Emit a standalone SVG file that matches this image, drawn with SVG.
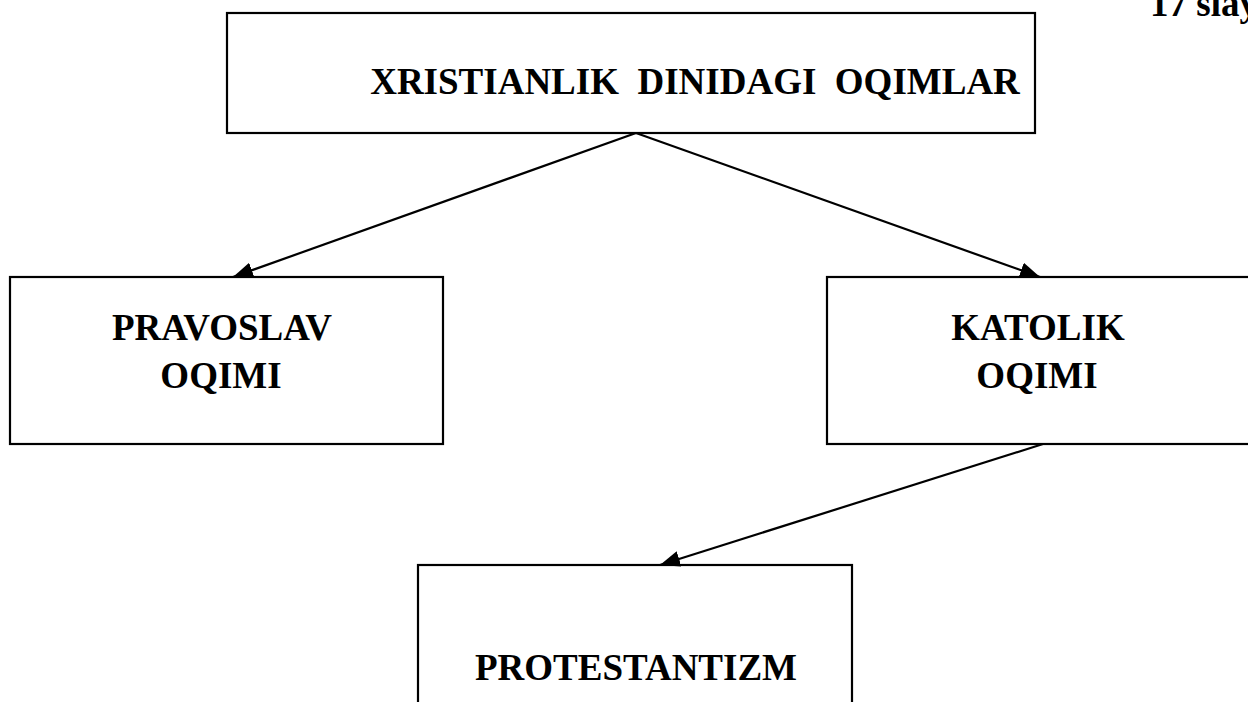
<svg xmlns="http://www.w3.org/2000/svg" width="1248" height="702" viewBox="0 0 1248 702">
<style>
.box{fill:#fff;stroke:#000;stroke-width:2.2}
.t{font-family:"Liberation Serif","Times New Roman",serif;font-weight:bold;font-size:37px;fill:#000;text-anchor:middle}
.c{stroke:#000;stroke-width:2.2;fill:none;marker-end:url(#ah)}
</style>
<defs>
<marker id="ah" markerUnits="userSpaceOnUse" markerWidth="22" markerHeight="16" refX="20" refY="8" orient="auto">
<path d="M0,0 L20,8 L0,16 Z" fill="#000"/>
</marker>
</defs>
<rect width="1248" height="702" fill="#fff"/>
<text x="1150" y="16" style="font-family:'Liberation Serif',serif;font-weight:bold;font-size:37px">17 slay</text>
<g id="node-top">
<rect class="box" x="227" y="13" width="808" height="120"/>
<text class="t" x="695" y="94" xml:space="preserve" style="white-space:pre">XRISTIANLIK  DINIDAGI  OQIMLAR</text>
</g>
<g id="node-pravoslav">
<rect class="box" x="10" y="277" width="433" height="167"/>
<text class="t" x="222" y="340">PRAVOSLAV</text>
<text class="t" x="221" y="388">OQIMI</text>
</g>
<g id="node-katolik">
<rect class="box" x="827" y="277" width="440" height="167"/>
<text class="t" x="1038" y="340">KATOLIK</text>
<text class="t" x="1037" y="388">OQIMI</text>
</g>
<g id="node-protestantizm">
<rect class="box" x="418" y="565" width="434" height="160"/>
<text class="t" x="636" y="680">PROTESTANTIZM</text>
</g>
<g id="connectors">
<line class="c" x1="636" y1="133" x2="233" y2="277"/>
<line class="c" x1="636" y1="133" x2="1040" y2="277"/>
<line class="c" x1="1043" y1="444" x2="660" y2="565"/>
</g>
</svg>
